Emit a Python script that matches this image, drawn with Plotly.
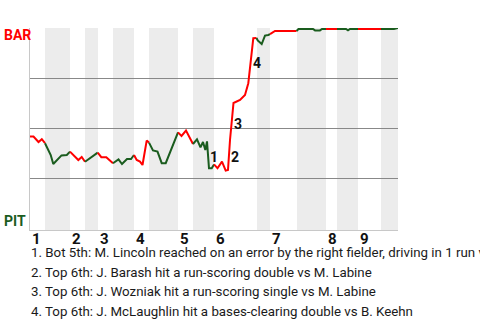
import plotly.graph_objects as go

# Game progress (play index, 0-100) and Barrington win probability
play_x = [0, 0.95, 2.31, 3.21, 4.08,
          4.97, 5.63, 6.33, 7.47, 8.56, 10.0, 10.87,
          13.13, 14.05, 14.95,
          16.71, 18.40,
          19.38, 20.73, 22.55,
          24.05, 25.0, 26.36, 27.45, 28.26,
          29.0, 29.89, 30.57, 31.71, 32.34,
          33.42, 34.65, 35.79, 36.88, 38.59, 40.22,
          41.17, 42.39, 43.48, 44.29,
          45.38, 46.33, 47.01, 47.64, 48.10, 48.64, 49.38, 50.0,
          50.95, 52.17, 53.18, 53.80, 54.35, 55.30, 56.25, 57.07, 58.42, 59.32, 60.68, 61.55,
          61.88, 62.96, 63.86, 64.76, 65.22,
          66.58, 69.29, 72.42,
          72.96, 76.90, 77.45, 78.80, 79.35, 80.43,
          81.79, 83.42,
          85.87, 86.41, 86.96, 89.13,
          92.39, 95.38,
          98.91, 100.0]
bar_wp = [0.457, 0.457, 0.430, 0.444, 0.424,
          0.394, 0.365, 0.320, 0.343, 0.363, 0.365, 0.382,
          0.340, 0.355, 0.331,
          0.353, 0.377,
          0.354, 0.354, 0.324,
          0.343, 0.320, 0.345, 0.345, 0.365,
          0.340, 0.332, 0.315, 0.437, 0.427,
          0.388, 0.382, 0.324, 0.324, 0.400, 0.478,
          0.460, 0.487, 0.450, 0.420,
          0.443, 0.403, 0.430, 0.390, 0.433, 0.299, 0.299, 0.318,
          0.299, 0.332, 0.287, 0.290, 0.440, 0.625, 0.632, 0.640, 0.665, 0.724, 0.949, 0.950,
          0.938, 0.920, 0.962, 0.965, 0.969,
          0.985, 0.985, 0.985,
          0.995, 0.995, 0.988, 0.988, 0.995, 0.995,
          0.995, 0.995,
          0.995, 0.988, 0.995, 0.995,
          0.995, 0.995,
          0.995, 1.0]

# Half-inning boundaries (play index): top1, bot1, top2, ... bot9, end
half_breaks = [0, 4.08, 10.87, 14.95, 18.48, 22.55, 28.26, 32.34, 40.22, 44.29,
               50.0, 61.68, 65.22, 72.55, 80.43, 83.42, 89.13, 95.38, 100.0]
inning_labels = ["1", "2", "3", "4", "5", "6", "7", "8", "9"]

# Key plays: index of the vertex where each play ends
event_vertex = [45, 52, 53, 58]
event_labels = ["1", "2", "3", "4"]
event_notes = [
    "1. Bot 5th: M. Lincoln reached on an error by the right fielder, driving in 1 run vs",
    "2. Top 6th: J. Barash hit a run-scoring double vs M. Labine",
    "3. Top 6th: J. Wozniak hit a run-scoring single vs M. Labine",
    "4. Top 6th: J. McLaughlin hit a bases-clearing double vs B. Keehn",
]

team_away, team_home = "BAR", "PIT"
RED = "#ff0000"
GREEN = "#1a5c1e"
FONT = "Roboto"

W, H = 480, 320
ML, MR, MT, MB = 30, 82, 28, 90
PH = H - MT - MB

def py(px_y):
    return (H - MB - px_y) / PH

fig = go.Figure()

shapes = []
for k in range(len(half_breaks) - 1):
    if k % 2 == 1:
        shapes.append(dict(type="rect", xref="x", yref="paper",
                           x0=half_breaks[k], x1=half_breaks[k + 1], y0=0, y1=1,
                           fillcolor="#ececec", line=dict(width=0), layer="below"))

for k in range(len(half_breaks) - 1):
    lo, hi = half_breaks[k], half_breaks[k + 1]
    idx = [i for i, x in enumerate(play_x) if (lo < x <= hi) or (k == 0 and x == lo)]
    if not idx:
        continue
    if idx[0] > 0:
        idx = [idx[0] - 1] + idx
    fig.add_trace(go.Scatter(
        x=[play_x[i] for i in idx], y=[bar_wp[i] for i in idx],
        mode="lines", line=dict(color=RED if k % 2 == 0 else GREEN, width=2),
        hoverinfo="skip", showlegend=False))

ann = []
for k, lab in enumerate(inning_labels):
    ann.append(dict(x=half_breaks[2 * k], xref="x", y=py(238.5), yref="paper",
                    text=lab, showarrow=False, xanchor="left", yanchor="middle",
                    font=dict(family=FONT, size=15, color="#111", weight="bold")))

for vi, lab in zip(event_vertex, event_labels):
    mx = (play_x[vi - 1] + play_x[vi]) / 2
    my = (bar_wp[vi - 1] + bar_wp[vi]) / 2
    ann.append(dict(x=mx, y=my, xref="x", yref="y", text=lab, showarrow=False,
                    xanchor="center", yanchor="middle", xshift=6, yshift=-2,
                    font=dict(family=FONT, size=14, color="#111", weight="bold")))

for j, note in enumerate(event_notes):
    ann.append(dict(x=0, xref="paper", y=py(252.5 + 19.5 * j), yref="paper",
                    text=note, showarrow=False, xanchor="left", yanchor="middle",
                    xshift=-1, font=dict(family=FONT, size=13.3, color="#1a1a1a")))

ann.append(dict(x=(2 - ML) / (W - ML - MR), xref="paper", y=py(35), yref="paper",
                text=team_away, showarrow=False, xanchor="left", yanchor="middle",
                font=dict(family=FONT, size=14, color=RED, weight="bold")))
ann.append(dict(x=(2 - ML) / (W - ML - MR), xref="paper", y=py(220.5), yref="paper",
                text=team_home, showarrow=False, xanchor="left", yanchor="middle",
                font=dict(family=FONT, size=14, color=GREEN, weight="bold")))

fig.update_layout(
    width=W, height=H, margin=dict(l=ML, r=MR, t=MT, b=MB),
    paper_bgcolor="white", plot_bgcolor="white",
    shapes=shapes, annotations=ann,
    xaxis=dict(range=[0, 100], showgrid=False, zeroline=False, showline=True,
               linecolor="#c8c8c8", linewidth=1, showticklabels=False, ticks=""),
    yaxis=dict(range=[-0.01, 1.0], tickvals=[0.25, 0.5, 0.75, 1.0], showgrid=True,
               gridcolor="#888888", gridwidth=1, zeroline=False, showline=True,
               linecolor="#c8c8c8", linewidth=1, showticklabels=False, ticks=""),
)

fig.write_html("out.html")
